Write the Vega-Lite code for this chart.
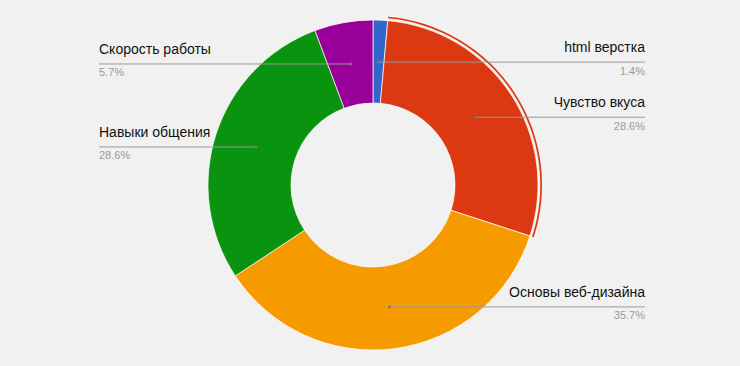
{
  "$schema": "https://vega.github.io/schema/vega-lite/v6.json",
  "width": 740,
  "height": 366,
  "padding": 0,
  "autosize": {"type": "none"},
  "background": "#f1f1f1",
  "config": {"view": {"stroke": null}, "font": "Liberation Sans"},
  "data": {
    "values": [
      {"skill": "html верстка", "value": 1, "order": 1},
      {"skill": "Чувство вкуса", "value": 20, "order": 2},
      {"skill": "Основы веб-дизайна", "value": 25, "order": 3},
      {"skill": "Навыки общения", "value": 20, "order": 4},
      {"skill": "Скорость работы", "value": 4, "order": 5}
    ]
  },
  "transform": [
    {"joinaggregate": [{"op": "sum", "field": "value", "as": "total"}]},
    {"window": [{"op": "sum", "field": "value", "as": "cum"}], "sort": [{"field": "order", "order": "ascending"}], "frame": [null, 0]},
    {"calculate": "datum.value / datum.total", "as": "pct"},
    {"calculate": "2 * PI * (datum.cum - datum.value / 2) / datum.total", "as": "ang"},
    {"calculate": "123 * sin(datum.ang)", "as": "px"},
    {"calculate": "123 * cos(datum.ang)", "as": "py"},
    {"calculate": "datum.px >= 0 ? 'right' : 'left'", "as": "side"},
    {"calculate": "datum.side == 'right' ? 272 : -274", "as": "lx"}
  ],
  "encoding": {
    "x": {"type": "quantitative", "scale": {"domain": [-373, 367], "nice": false, "zero": false}, "axis": null},
    "y": {"type": "quantitative", "scale": {"domain": [-181, 185], "nice": false, "zero": false}, "axis": null}
  },
  "layer": [
    {
      "mark": {"type": "arc", "innerRadius": 82, "outerRadius": 165, "stroke": "#ffffff", "strokeWidth": 0.7},
      "encoding": {
        "x": {"datum": 0},
        "y": {"datum": 0},
        "theta": {"field": "value", "type": "quantitative", "stack": true},
        "order": {"field": "order", "type": "quantitative", "sort": "ascending"},
        "color": {
          "field": "skill",
          "type": "nominal",
          "scale": {
            "domain": ["html верстка", "Чувство вкуса", "Основы веб-дизайна", "Навыки общения", "Скорость работы"],
            "range": ["#3366cc", "#dc3912", "#f59b00", "#0a930f", "#990099"]
          },
          "legend": null
        }
      }
    },
    {
      "mark": {"type": "arc", "innerRadius": 167.3, "outerRadius": 169, "color": "#dc3912"},
      "encoding": {
        "x": {"datum": 0},
        "y": {"datum": 0},
        "theta": {"field": "value", "type": "quantitative", "stack": true},
        "order": {"field": "order", "type": "quantitative", "sort": "ascending"},
        "opacity": {"condition": {"test": "datum.skill == 'Чувство вкуса'", "value": 1}, "value": 0}
      }
    },
    {
      "mark": {"type": "rule", "color": "#9a9a9a", "strokeWidth": 1},
      "encoding": {
        "x": {"field": "px", "type": "quantitative"},
        "x2": {"field": "lx"},
        "y": {"field": "py", "type": "quantitative"}
      }
    },
    {
      "mark": {"type": "point", "filled": true, "size": 8, "color": "#777777", "opacity": 1},
      "encoding": {
        "x": {"field": "px", "type": "quantitative"},
        "y": {"field": "py", "type": "quantitative"}
      }
    },
    {
      "transform": [{"filter": "datum.side == 'left'"}],
      "mark": {"type": "text", "align": "left", "baseline": "alphabetic", "dy": -10, "fontSize": 14, "color": "#111111"},
      "encoding": {
        "x": {"field": "lx", "type": "quantitative"},
        "y": {"field": "py", "type": "quantitative"},
        "text": {"field": "skill"}
      }
    },
    {
      "transform": [{"filter": "datum.side == 'right'"}],
      "mark": {"type": "text", "align": "right", "baseline": "alphabetic", "dy": -10, "fontSize": 14, "color": "#111111"},
      "encoding": {
        "x": {"field": "lx", "type": "quantitative"},
        "y": {"field": "py", "type": "quantitative"},
        "text": {"field": "skill"}
      }
    },
    {
      "transform": [{"filter": "datum.side == 'left'"}],
      "mark": {"type": "text", "align": "left", "baseline": "alphabetic", "dy": 12.5, "fontSize": 11, "color": "#9a9a9a"},
      "encoding": {
        "x": {"field": "lx", "type": "quantitative"},
        "y": {"field": "py", "type": "quantitative"},
        "text": {"field": "pct", "format": ".1%"}
      }
    },
    {
      "transform": [{"filter": "datum.side == 'right'"}],
      "mark": {"type": "text", "align": "right", "baseline": "alphabetic", "dy": 12.5, "fontSize": 11, "color": "#9a9a9a"},
      "encoding": {
        "x": {"field": "lx", "type": "quantitative"},
        "y": {"field": "py", "type": "quantitative"},
        "text": {"field": "pct", "format": ".1%"}
      }
    }
  ]
}
